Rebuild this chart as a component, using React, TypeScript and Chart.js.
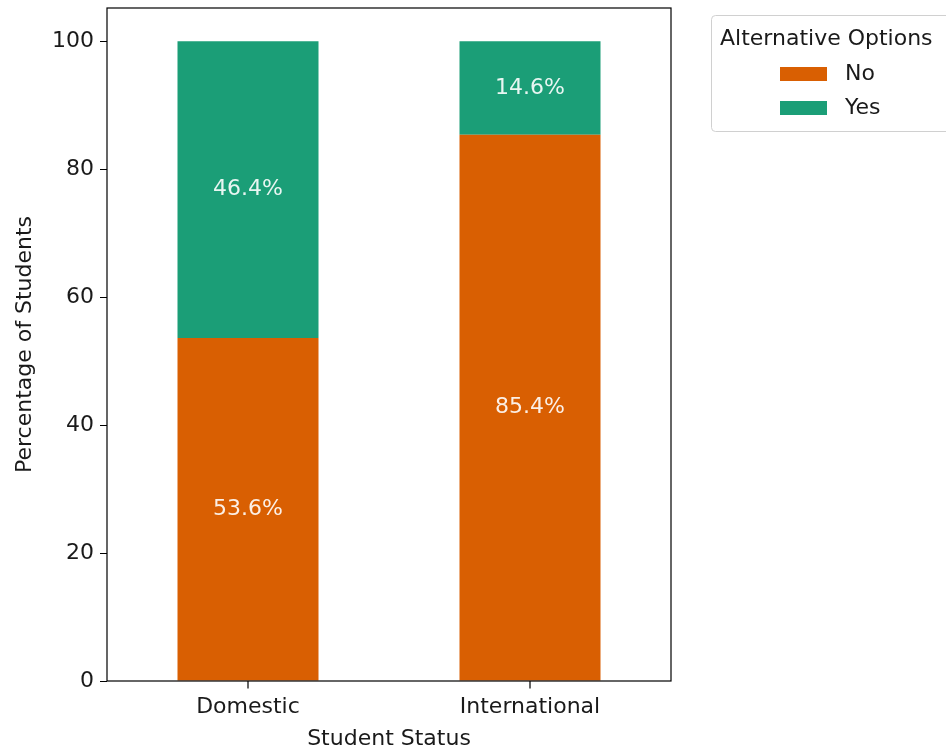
import React, { useEffect, useRef } from "react";
import { Chart, registerables } from "chart.js";

Chart.register(...registerables);

const categories = ["Domestic", "International"];
const seriesLabels = ["No", "Yes"];
const noValues = [53.6, 85.4];
const yesValues = [46.4, 14.6];
const seriesColors = ["#d95f02", "#1b9e77"];
const yTickValues = [0, 20, 40, 60, 80, 100];
const legendTitle = "Alternative Options";
const xTitle = "Student Status";
const yTitle = "Percentage of Students";

const FONT = "'DejaVu Sans', sans-serif";
const FS = 22;

const framePlugin = {
  id: "frame",
  afterDatasetsDraw(chart: any) {
    const { ctx, chartArea } = chart;
    ctx.save();
    ctx.font = `${FS}px ${FONT}`;
    ctx.fillStyle = "rgba(255,255,255,0.9)";
    ctx.textAlign = "center";
    ctx.textBaseline = "middle";
    chart.data.datasets.forEach((ds: any, di: number) => {
      const meta = chart.getDatasetMeta(di);
      meta.data.forEach((bar: any, i: number) => {
        const y = (bar.y + bar.base) / 2;
        ctx.fillText(`${Number(ds.data[i]).toFixed(1)}%`, bar.x, y);
      });
    });
    ctx.strokeStyle = "#000";
    ctx.lineWidth = 1.2;
    ctx.strokeRect(chartArea.left, chartArea.top, chartArea.right - chartArea.left, chartArea.bottom - chartArea.top);
    ctx.restore();
  },
  afterDraw(chart: any) {
    const { ctx, chartArea } = chart;
    ctx.save();
    // x tick marks at category centres
    const xs = chart.scales.x;
    ctx.fillStyle = "#000";
    categories.forEach((_, i) => {
      const x = Math.round(xs.getPixelForValue(i));
      ctx.fillRect(x - 0.6, chartArea.bottom, 1.2, 7.5);
    });
    // legend
    const bx = 711.5, by = 15.5, bw = 250, bh = 116, r = 4;
    ctx.beginPath();
    ctx.moveTo(bx + r, by);
    ctx.lineTo(bx + bw - r, by);
    ctx.arcTo(bx + bw, by, bx + bw, by + r, r);
    ctx.lineTo(bx + bw, by + bh - r);
    ctx.arcTo(bx + bw, by + bh, bx + bw - r, by + bh, r);
    ctx.lineTo(bx + r, by + bh);
    ctx.arcTo(bx, by + bh, bx, by + bh - r, r);
    ctx.lineTo(bx, by + r);
    ctx.arcTo(bx, by, bx + r, by, r);
    ctx.closePath();
    ctx.fillStyle = "rgba(255,255,255,0.8)";
    ctx.fill();
    ctx.strokeStyle = "#d0d0d0";
    ctx.lineWidth = 1;
    ctx.stroke();
    ctx.font = `${FS}px ${FONT}`;
    ctx.fillStyle = "#1a1a1a";
    ctx.textBaseline = "middle";
    ctx.textAlign = "left";
    ctx.fillText(legendTitle, 720, 39);
    seriesLabels.forEach((lab, i) => {
      const cy = 74 + i * 34;
      ctx.fillStyle = seriesColors[i];
      ctx.fillRect(780, cy - 7, 47, 14);
      ctx.fillStyle = "#1a1a1a";
      ctx.fillText(lab, 845, cy);
    });
    ctx.restore();
  },
};

export default function App() {
  const ref = useRef<HTMLCanvasElement>(null);
  useEffect(() => {
    document.body.style.margin = "0";
    const chart = new Chart(ref.current!, {
      type: "bar",
      data: {
        labels: categories,
        datasets: [
          { label: seriesLabels[0], data: noValues, backgroundColor: seriesColors[0], barPercentage: 0.5, categoryPercentage: 1 },
          { label: seriesLabels[1], data: yesValues, backgroundColor: seriesColors[1], barPercentage: 0.5, categoryPercentage: 1 },
        ],
      },
      options: {
        responsive: false,
        animation: false,
        layout: { padding: { top: 8, right: 275, left: 0, bottom: 0 } },
        plugins: { legend: { display: false }, tooltip: { enabled: false } },
        scales: {
          x: {
            stacked: true,
            grid: { display: false },
            border: { display: false },
            ticks: { color: "#1a1a1a", font: { family: FONT, size: FS }, padding: 5, maxRotation: 0 },
            title: { display: true, text: xTitle, color: "#1a1a1a", font: { family: FONT, size: FS }, padding: { top: 0, bottom: 0 } },
            afterFit: (s: any) => { s.height = 71; s.paddingLeft = 0; s.paddingRight = 0; },
          },
          y: {
            stacked: true,
            min: 0,
            max: 105.2,
            grid: { display: true, drawOnChartArea: false, tickLength: 7, color: "#000" },
            border: { display: false },
            ticks: { color: "#1a1a1a", font: { family: FONT, size: FS }, padding: 6 },
            afterBuildTicks: (s: any) => { s.ticks = yTickValues.map((v) => ({ value: v })); },
            title: { display: true, text: yTitle, color: "#1a1a1a", font: { family: FONT, size: FS }, padding: { top: 12, bottom: 0 } },
            afterFit: (s: any) => { s.width = 107; s.paddingTop = 0; s.paddingBottom = 0; },
          },
        },
      },
      plugins: [framePlugin],
    });
    return () => chart.destroy();
  }, []);
  return <canvas ref={ref} width={946} height={752} style={{ display: "block" }} />;
}
